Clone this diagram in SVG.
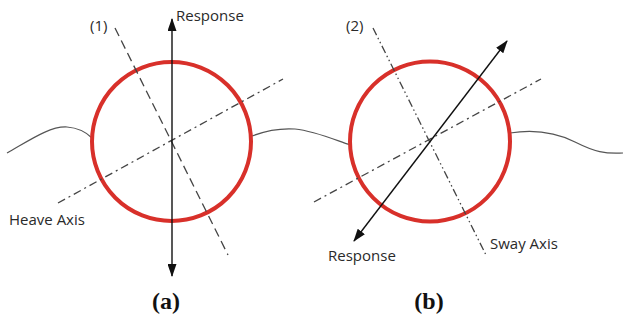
<svg xmlns="http://www.w3.org/2000/svg" width="623" height="322" viewBox="0 0 623 322">
<style>
.lbl{font-family:"Open Sans","Liberation Sans",sans-serif;font-size:15px;fill:#2a2a2a}
.cap{font-family:"Liberation Serif","Times New Roman",serif;font-size:24px;font-weight:bold;fill:#111;text-anchor:middle}
.wave{fill:none;stroke:#555;stroke-width:1.2}
.circ{fill:none;stroke:#d8302a;stroke-width:4}
.arr{stroke:#111;stroke-width:1.4;fill:none}
.dash{stroke:#444;stroke-width:1.3;fill:none;stroke-dasharray:9,5}
.dd{stroke:#444;stroke-width:1.3;fill:none;stroke-dasharray:8,4,2,4}
.ddd{stroke:#444;stroke-width:1.3;fill:none;stroke-dasharray:8,3,1.5,3,1.5,3}
</style>
<defs>
<marker id="ah" markerUnits="userSpaceOnUse" markerWidth="13" markerHeight="9" viewBox="0 0 13 9" refX="12" refY="4.5" orient="auto-start-reverse">
<path d="M0,0 L13,4.5 L0,9 Z" fill="#111"/>
</marker>
</defs>
<g id="waves">
<path class="wave" d="M7,153 C30,140 50,126 67,127 C80,128 88,134 92,138"/>
<path class="wave" d="M252,136 C265,131 280,128 295,129 C315,131 335,140 350,145"/>
<path class="wave" d="M510,133 C535,129 555,132 575,142 C595,152 605,154 623,153"/>
</g>
<g id="panel-a">
<circle id="circle-a" class="circ" cx="171.5" cy="141.5" r="79.5"/>
<line class="dash" x1="115" y1="28" x2="228" y2="255"/>
<line class="dd" x1="58" y1="203" x2="283" y2="79"/>
<line class="arr" x1="172" y1="19" x2="172" y2="276" marker-start="url(#ah)" marker-end="url(#ah)"/>
<text class="lbl" x="90" y="31">(1)</text>
<text class="lbl" x="176" y="21">Response</text>
<text class="lbl" x="9" y="225">Heave Axis</text>
<text class="cap" x="166" y="309">(a)</text>
</g>
<g id="panel-b">
<circle id="circle-b" class="circ" cx="430" cy="141.5" r="80"/>
<line class="ddd" x1="373" y1="28" x2="486" y2="255"/>
<line class="dd" x1="314" y1="202" x2="541" y2="79"/>
<line class="arr" x1="354" y1="241" x2="507" y2="41" marker-start="url(#ah)" marker-end="url(#ah)"/>
<text class="lbl" x="346" y="31">(2)</text>
<text class="lbl" x="490" y="249">Sway Axis</text>
<text class="lbl" x="328" y="261">Response</text>
<text class="cap" x="429" y="309">(b)</text>
</g>
</svg>
